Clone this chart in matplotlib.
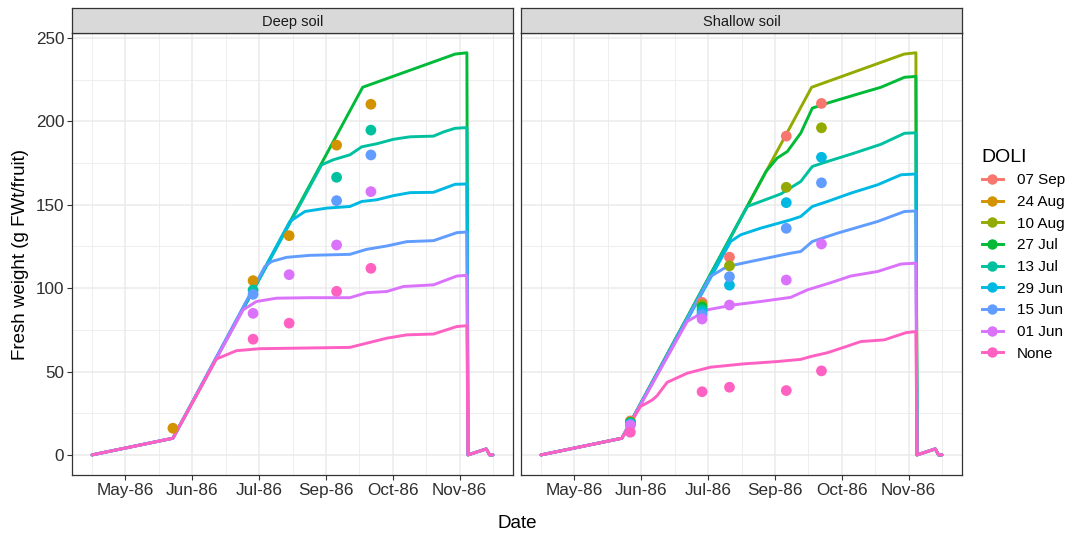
import numpy as np
import matplotlib
matplotlib.use('Agg')
import matplotlib.pyplot as plt
from matplotlib.lines import Line2D

plt.rcParams['font.family'] = ['Liberation Sans', 'DejaVu Sans']

doli_levels = ['07 Sep', '24 Aug', '10 Aug', '27 Jul', '13 Jul',
               '29 Jun', '15 Jun', '01 Jun', 'None']
doli_colors = ['#F8766D', '#D39200', '#93AA00', '#00BA38', '#00C19F',
               '#00B9E3', '#619CFF', '#DB72FB', '#FF61C3']

# x axis is day of year, labels as printed on the original chart
tick_days = [120, 150, 180, 210, 240, 270]
tick_labels = ['May-86', 'Jun-86', 'Jul-86', 'Sep-86', 'Oct-86', 'Nov-86']
minor_days = [105, 135, 165, 195, 225, 255, 285]

# potential growth curve, shared by every line until it branches off
pot_day = [105, 141.3, 226.5, 268, 273.3]
pot_fw = [0, 10, 220.5, 240.4, 241.2]
# harvest: weight back to zero
end_day = [273.8, 282, 283.5, 285]
end_fw = [0, 3.6, 0, 0]

# ---- Deep soil simulated lines (after branching from potential) ----
deep_27jul_day = []
deep_27jul_fw = []
deep_13jul_day = [208.1, 213.3, 220.8, 226.1, 232.8, 240.3, 247.8, 258.3, 263, 268, 273.3]
deep_13jul_fw = [174, 177, 180, 184.8, 186.6, 189.3, 190.8, 191.2, 193.8, 195.9, 196.3]
deep_29jun_day = [193.8, 200.6, 210.3, 220.8, 226.1, 232.8, 240.3, 247.8, 258.3, 268, 273.3]
deep_29jun_fw = [140, 146, 148, 149, 152, 153, 155.5, 157.3, 157.5, 162.3, 162.5]
deep_15jun_day = [182.6, 185.6, 192.3, 202.8, 220.8, 228.3, 237.3, 246.3, 258.3, 268.8, 273.3]
deep_15jun_fw = [113, 116, 118.5, 119.7, 120.3, 123.3, 125.3, 127.9, 128.5, 133.3, 133.7]
deep_01jun_day = [172.8, 178.8, 187.8, 202.8, 220.8, 228.3, 237.3, 244.8, 258.3, 268.8, 273.3]
deep_01jun_fw = [87, 92, 94, 94.3, 94.3, 97.3, 98, 101, 102, 107.3, 107.7]
deep_none_day = [160.8, 169.8, 180.3, 220.8, 228.3, 237.3, 246.3, 258.3, 268.8, 273.3]
deep_none_fw = [57.5, 62.5, 63.7, 64.5, 67, 70, 72, 72.5, 77, 77.5]

# ---- Shallow soil simulated lines ----
shal_10aug_day = []
shal_10aug_fw = []
shal_27jul_day = [206, 211, 215.6, 221.6, 226.8, 233.6, 241.1, 248.6, 257.6, 268.2, 273.3]
shal_27jul_fw = [170, 178, 182, 193, 208, 211, 214, 217, 220.5, 226.5, 227]
shal_13jul_day = [197.6, 203.6, 212.6, 221.6, 226.8, 233.6, 245.6, 257.6, 268.2, 273.3]
shal_13jul_fw = [149, 152, 156.5, 164, 173, 176, 181, 186.3, 192.9, 193.2]
shal_29jun_day = [190.1, 194.6, 203.6, 217.1, 221.6, 226.8, 233.6, 244.1, 256.1, 266.6, 273.3]
shal_29jun_fw = [128, 132, 136, 141, 143, 149, 152, 157, 162, 168, 168.5]
shal_15jun_day = [181, 188.6, 199.1, 217.1, 221.6, 226.8, 238.1, 256.1, 268.2, 273.3]
shal_15jun_fw = [107, 113, 116, 121, 122, 128, 133, 140, 146, 146.3]
shal_01jun_day = [170.6, 179.6, 191.6, 203.6, 217.1, 224.6, 235.1, 244.1, 256.1, 266.6, 273.3]
shal_01jun_fw = [80, 87, 90, 92, 94.5, 99, 103.3, 107.3, 110, 114.5, 115]
shal_none_day = [149.6, 155, 157.1, 161.6, 170.6, 181, 196, 211.1, 221.6, 226.1, 233.6,
                 241.1, 248.6, 259.1, 268.8, 273.3]
shal_none_fw = [29, 33, 35.5, 43.5, 49, 52.6, 54.6, 56, 57.3, 59, 61.3,
                64.6, 68, 69, 73.3, 74]

# ---- observed fruit weights ----
deep_obs_day = [141.3, 177.3, 193.5, 214.8, 230.2]
deep_obs_24aug = [16, 104.5, 131.5, 185.8, 210.3]
deep_obs_13jul = [None, 98.9, None, 166.5, 194.8]
deep_obs_15jun = [None, 96.3, None, 152.5, 179.9]
deep_obs_01jun = [None, 84.9, 108.1, 125.9, 157.9]
deep_obs_none = [None, 69.4, 79, 98.1, 111.9]

shal_obs_day = [145.1, 177.3, 189.6, 215.1, 230.9]
shal_obs_07sep = [20.4, 91.5, 118.6, 191.2, 210.8]
shal_obs_10aug = [19.8, 90, 113.4, 160.5, 196.2]
shal_obs_27jul = [19.4, 88.5, None, None, None]
shal_obs_13jul = [19, 87, None, None, None]
shal_obs_29jun = [18.6, 85.5, 101.8, 151.3, 178.5]
shal_obs_15jun = [18.2, 84, 106.9, 135.9, 163.2]
shal_obs_01jun = [17.8, 81.5, 89.9, 104.9, 126.5]
shal_obs_none = [13.6, 37.9, 40.6, 38.6, 50.4]


def full_line(days, fws):
    '''potential curve up to the branch point, then own values, then harvest'''
    if days:
        head = [i for i, d in enumerate(pot_day) if d < days[0]]
        x = [pot_day[i] for i in head] + days + end_day
        y = [pot_fw[i] for i in head] + fws + end_fw
    else:
        x = pot_day + end_day
        y = pot_fw + end_fw
    return x, y


def style_panel(ax, title, show_y):
    ax.set_xlim(96, 294)
    ax.set_ylim(-12.05, 253.05)
    ax.set_xticks(tick_days)
    ax.set_xticklabels(tick_labels)
    ax.set_xticks(minor_days, minor=True)
    ax.set_yticks([0, 50, 100, 150, 200, 250])
    ax.set_yticks([25, 75, 125, 175, 225], minor=True)
    ax.grid(which='major', color='#EBEBEB', lw=1.1, zorder=0)
    ax.grid(which='minor', color='#EBEBEB', lw=0.6, zorder=0)
    ax.set_axisbelow(True)
    ax.tick_params(which='major', length=3.5, width=0.8, color='#333333',
                   labelsize=12.3, labelcolor='#2E2E2E', pad=2)
    ax.tick_params(which='minor', length=0)
    if not show_y:
        ax.tick_params(axis='y', which='both', left=False, labelleft=False)
    for sp in ax.spines.values():
        sp.set_color('#333333')
        sp.set_linewidth(0.9)
    # facet strip
    pos = ax.get_position()
    strip = ax.figure.add_axes([pos.x0, pos.y1, pos.width, 25 / 536])
    strip.set_facecolor('#D9D9D9')
    strip.set_xticks([])
    strip.set_yticks([])
    for sp in strip.spines.values():
        sp.set_color('#333333')
        sp.set_linewidth(0.9)
    strip.text(0.5, 0.45, title, ha='center', va='center',
               fontsize=10.5, color='#1A1A1A', transform=strip.transAxes)


fig = plt.figure(figsize=(10.65, 5.36), dpi=100)
ax_deep = fig.add_axes([72 / 1065, 61 / 536, 441 / 1065, 442 / 536])
ax_shal = fig.add_axes([521 / 1065, 61 / 536, 441 / 1065, 442 / 536])

deep_lines = [('27 Jul', deep_27jul_day, deep_27jul_fw),
              ('13 Jul', deep_13jul_day, deep_13jul_fw),
              ('29 Jun', deep_29jun_day, deep_29jun_fw),
              ('15 Jun', deep_15jun_day, deep_15jun_fw),
              ('01 Jun', deep_01jun_day, deep_01jun_fw),
              ('None', deep_none_day, deep_none_fw)]
shal_lines = [('10 Aug', shal_10aug_day, shal_10aug_fw),
              ('27 Jul', shal_27jul_day, shal_27jul_fw),
              ('13 Jul', shal_13jul_day, shal_13jul_fw),
              ('29 Jun', shal_29jun_day, shal_29jun_fw),
              ('15 Jun', shal_15jun_day, shal_15jun_fw),
              ('01 Jun', shal_01jun_day, shal_01jun_fw),
              ('None', shal_none_day, shal_none_fw)]
deep_obs = [('24 Aug', deep_obs_24aug), ('13 Jul', deep_obs_13jul),
            ('15 Jun', deep_obs_15jun), ('01 Jun', deep_obs_01jun),
            ('None', deep_obs_none)]
shal_obs = [('07 Sep', shal_obs_07sep), ('10 Aug', shal_obs_10aug),
            ('27 Jul', shal_obs_27jul), ('13 Jul', shal_obs_13jul),
            ('29 Jun', shal_obs_29jun), ('15 Jun', shal_obs_15jun),
            ('01 Jun', shal_obs_01jun), ('None', shal_obs_none)]

for ax, lines, obs_day, obs in [(ax_deep, deep_lines, deep_obs_day, deep_obs),
                                (ax_shal, shal_lines, shal_obs_day, shal_obs)]:
    for k, (lev, d, w) in enumerate(lines):
        x, y = full_line(d, w)
        ax.plot(x, y, color=doli_colors[doli_levels.index(lev)], lw=2.1,
                solid_joinstyle='round', solid_capstyle='round', zorder=2 + k * 0.01)
    for lev, vals in obs:
        v = np.array([np.nan if a is None else a for a in vals], dtype=float)
        ax.scatter(obs_day, v, s=60, color=doli_colors[doli_levels.index(lev)],
                   edgecolors='none', zorder=4)

style_panel(ax_deep, 'Deep soil', True)
style_panel(ax_shal, 'Shallow soil', False)

ax_deep.set_ylabel('Fresh weight (g FWt/fruit)', fontsize=13.5, labelpad=5)
fig.text(517 / 1065, 1 - 523 / 536, 'Date', ha='center', va='center', fontsize=13.5)

handles = [Line2D([0], [0], color=c, lw=2.1, marker='o', markersize=7.5,
                  markeredgewidth=0) for c in doli_colors]
leg = fig.legend(handles, doli_levels, loc='upper left',
                 bbox_to_anchor=(968 / 1065, 1 - 135 / 536), frameon=False,
                 title='DOLI', title_fontsize=14, fontsize=11,
                 handlelength=1.4, handletextpad=0.9, labelspacing=0.5,
                 alignment='left')

fig.savefig('out.png', dpi=100)
